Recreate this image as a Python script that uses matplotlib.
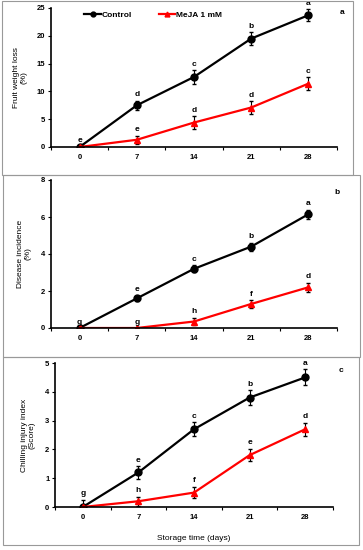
import matplotlib
matplotlib.use("Agg")
import matplotlib.pyplot as plt
from matplotlib.patches import Rectangle
from matplotlib.lines import Line2D

plt.rcParams['font.family'] = ['Liberation Sans', 'DejaVu Sans']
plt.rcParams['font.weight'] = 'bold'

days = [0, 7, 14, 21, 28]
day_labels = ['0', '7', '14', '21', '28']

# panel a - fruit weight loss
wl_ctrl = [0, 7.5, 12.6, 19.5, 23.7]
wl_ctrl_err = [0, 0.8, 1.2, 1.1, 1.1]
wl_meja = [0, 1.3, 4.4, 7.1, 11.4]
wl_meja_err = [0, 0.7, 1.1, 1.1, 1.1]
wl_ctrl_let = ['e', 'd', 'c', 'b', 'a']
wl_meja_let = ['', 'e', 'd', 'd', 'c']

# panel b - disease incidence
di_ctrl = [0, 1.6, 3.2, 4.4, 6.15]
di_ctrl_err = [0, 0.15, 0.18, 0.22, 0.25]
di_meja = [0, 0, 0.35, 1.3, 2.2]
di_meja_err = [0, 0, 0.2, 0.2, 0.25]
di_ctrl_let = ['g', 'e', 'c', 'b', 'a']
di_meja_let = ['', 'g', 'h', 'f', 'd']

# panel c - chilling injury index
ci_ctrl = [0, 1.2, 2.7, 3.8, 4.5]
ci_ctrl_err = [0.25, 0.22, 0.25, 0.25, 0.28]
ci_meja = [0, 0.2, 0.5, 1.8, 2.7]
ci_meja_err = [0.05, 0.15, 0.2, 0.22, 0.22]
ci_ctrl_let = ['g', 'e', 'c', 'b', 'a']
ci_meja_let = ['', 'h', 'f', 'e', 'd']

W, H = 363, 550
fig = plt.figure(figsize=(W / 100, H / 100), dpi=100)


def px_axes(left, right, top, bottom):
    return fig.add_axes([left / W, (H - bottom) / H, (right - left) / W, (bottom - top) / H])


def draw_panel(ax, ctrl, ctrl_err, meja, meja_err, ctrl_let, meja_let, ymax, ystep, ylabel):
    ax.errorbar(days, ctrl, yerr=ctrl_err, color='black', marker='o', markersize=5,
                linewidth=1.6, elinewidth=0.8, capsize=1.5)
    ax.errorbar(days, meja, yerr=meja_err, color='#ff0000', marker='^', markersize=5,
                linewidth=1.6, elinewidth=0.8, ecolor='black', capsize=1.5)
    for x, y, e, t in zip(days, ctrl, ctrl_err, ctrl_let):
        if t:
            ax.annotate(t, (x, y + e), xytext=(0, 1.8), textcoords='offset points',
                        ha='center', va='bottom', fontsize=6, annotation_clip=False)
    for x, y, e, t in zip(days, meja, meja_err, meja_let):
        if t:
            ax.annotate(t, (x, y + e), xytext=(0, 1.8), textcoords='offset points',
                        ha='center', va='bottom', fontsize=6, annotation_clip=False)
    ax.set_xlim(-3.5, 31.5)
    ax.set_ylim(0, ymax)
    ax.set_yticks([i * ystep for i in range(int(ymax / ystep) + 1)])
    ax.tick_params(axis='y', labelsize=5.5, length=2, width=0.8, pad=2)
    ax.set_xticks([d + 3.5 for d in [-7] + days])
    ax.set_xticklabels([])
    ax.set_xticks(days, minor=True)
    ax.set_xticklabels(day_labels, minor=True)
    ax.tick_params(axis='x', which='major', length=2.5, width=0.8)
    ax.tick_params(axis='x', which='minor', length=0, labelsize=5.5, pad=5)
    for s in ['top', 'right']:
        ax.spines[s].set_visible(False)
    for s in ['left', 'bottom']:
        ax.spines[s].set_linewidth(1.2)
    ax.set_ylabel(ylabel, fontsize=6, labelpad=7, linespacing=1.1)


# panel frames
fig.patches.append(Rectangle((2 / W, (H - 175) / H), 351 / W, 174 / H, transform=fig.transFigure,
                             fill=False, edgecolor='#999999', linewidth=0.8))
fig.patches.append(Rectangle((3 / W, (H - 357) / H), 357 / W, 182 / H, transform=fig.transFigure,
                             fill=False, edgecolor='#999999', linewidth=0.8))
fig.patches.append(Rectangle((3 / W, (H - 545) / H), 356 / W, 188 / H, transform=fig.transFigure,
                             fill=False, edgecolor='#999999', linewidth=0.8))

ax1 = px_axes(51, 337, 8, 147)
draw_panel(ax1, wl_ctrl, wl_ctrl_err, wl_meja, wl_meja_err, wl_ctrl_let, wl_meja_let,
           25, 5, 'Fruit weight loss\n(%)')
handles = [Line2D([], [], color='black', marker='o', markersize=3.5, linewidth=1.6),
           Line2D([], [], color='#ff0000', marker='^', markersize=3.5, linewidth=1.6)]
ax1.legend(handles, ['Control', 'MeJA 1 mM'], loc='upper left', bbox_to_anchor=(0.09, 1.03),
           ncol=2, frameon=False, fontsize=6, handlelength=2.0, handletextpad=0.1,
           columnspacing=3.2)

ax2 = px_axes(51, 337, 180, 328)
draw_panel(ax2, di_ctrl, di_ctrl_err, di_meja, di_meja_err, di_ctrl_let, di_meja_let,
           8, 2, 'Disease incidence\n(%)')

ax3 = px_axes(55, 333, 363, 507)
draw_panel(ax3, ci_ctrl, ci_ctrl_err, ci_meja, ci_meja_err, ci_ctrl_let, ci_meja_let,
           5, 1, 'Chilling injury index\n(Score)')
ax3.set_xlabel('Storage time (days)', fontsize=6, labelpad=10)

fig.text(342 / W, 1 - 13 / H, 'a', fontsize=6, ha='center', va='center')
fig.text(337 / W, 1 - 192 / H, 'b', fontsize=6, ha='center', va='center')
fig.text(341 / W, 1 - 370 / H, 'c', fontsize=6, ha='center', va='center')

plt.savefig('out.png', dpi=100)
plt.close()
